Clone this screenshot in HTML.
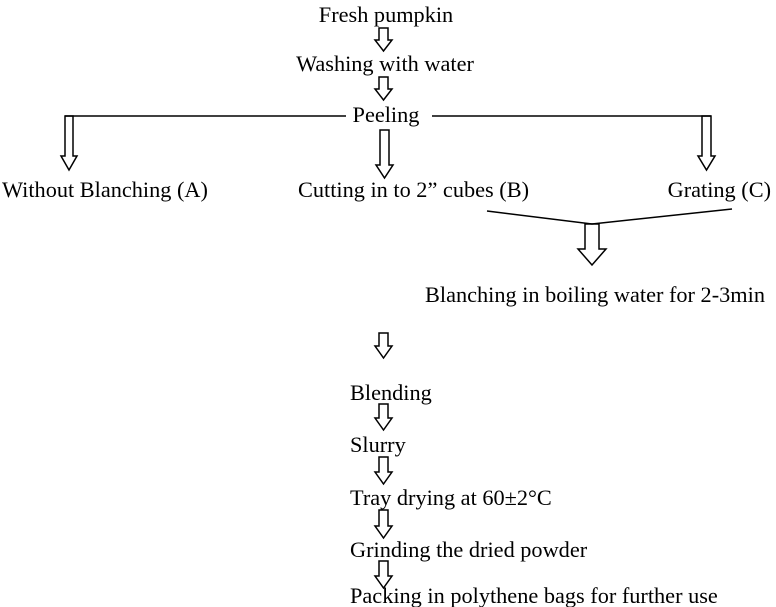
<!DOCTYPE html>
<html><head><meta charset="utf-8"><style>
html,body{margin:0;padding:0;background:#fff;}
svg{display:block;}
text{font-family:"Liberation Serif",serif;font-size:22.3px;fill:#000;}
</style></head><body>
<svg width="776" height="607" viewBox="0 0 776 607" xmlns="http://www.w3.org/2000/svg">
<g fill="none" stroke="#000" stroke-width="1.5">
<polygon points="379,28 388,28 388,40 392,40 383.5,51 375,40 379,40"/>
<polygon points="379,77 388,77 388,89 392,89 383.5,100 375,89 379,89"/>
<polygon points="380,130 389,130 389,165 393,165 384.5,178 376,165 380,165"/>
<polygon points="65,116 73,116 73,156 77,156 69,170 61,156 65,156"/>
<polygon points="702,116 711,116 711,156 715,156 706.5,170 698,156 702,156"/>
<polygon points="585,224 599,224 599,249 606,249 592,265 578,249 585,249"/>
<polygon points="379,333 388,333 388,346 392,346 383.5,358 375,346 379,346"/>
<polygon points="379,404 388,404 388,418 392,418 383.5,430 375,418 379,418"/>
<polygon points="379,457 388,457 388,472 392,472 383.5,484 375,472 379,472"/>
<polygon points="379,510 388,510 388,526 392,526 383.5,538 375,526 379,526"/>
<polygon points="379,561 388,561 388,576 392,576 383.5,588 375,576 379,576"/>
<polyline points="65,116 346,116"/>
<polyline points="432,116 711,116"/>
<polyline points="487,211 592,224 732,209"/>
</g>
<text x="386" y="22" text-anchor="middle">Fresh pumpkin</text>
<text x="385" y="71" text-anchor="middle">Washing with water</text>
<text x="386" y="122" text-anchor="middle">Peeling</text>
<text x="2" y="197">Without Blanching (A)</text>
<text x="298" y="197">Cutting in to 2” cubes (B)</text>
<text x="771" y="197" text-anchor="end">Grating (C)</text>
<text x="425" y="302">Blanching in boiling water for 2-3min</text>
<text x="350" y="400">Blending</text>
<text x="350" y="452">Slurry</text>
<text x="350" y="505">Tray drying at 60±2°C</text>
<text x="350" y="557">Grinding the dried powder</text>
<text x="350" y="603">Packing in polythene bags for further use</text>
</svg>
</body></html>
